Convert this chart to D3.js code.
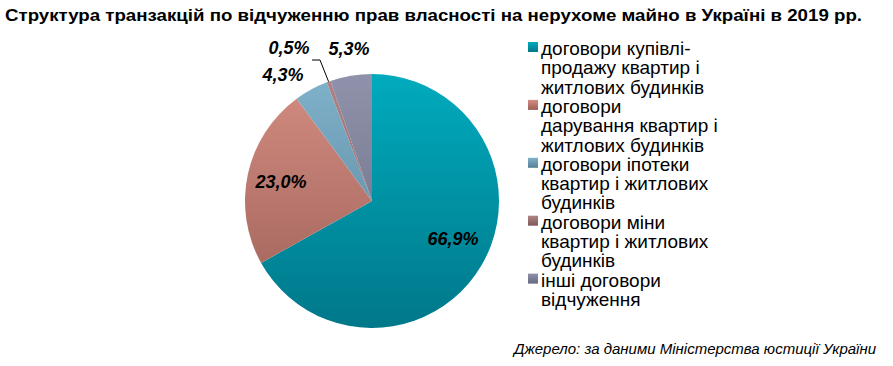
<!DOCTYPE html>
<html>
<head>
<meta charset="utf-8">
<script src="https://cdn.jsdelivr.net/npm/d3@7"></script>
<style>
  body { margin: 0; background: #fff; }
  svg { display: block; font-family: "Liberation Sans", Arial, sans-serif; }
</style>
</head>
<body>
<svg id="chart" width="893" height="366"></svg>
<script>
// Data
const categories = [
    'договори купівлі-продажу квартир і житлових будинків',
    'договори дарування квартир і житлових будинків',
    'договори іпотеки квартир і житлових будинків',
    'договори міни квартир і житлових будинків',
    'інші договори відчуження'
];
const shares = [66.9, 23.0, 4.3, 0.5, 5.3];
const valueLabels = ['66,9%', '23,0%', '4,3%', '0,5%', '5,3%'];
// legend lines as they wrap in the picture
const legendLines = [
    ['договори купівлі-', 'продажу квартир і', 'житлових будинків'],
    ['договори', 'дарування квартир і', 'житлових будинків'],
    ['договори іпотеки', 'квартир і житлових', 'будинків'],
    ['договори міни', 'квартир і житлових', 'будинків'],
    ['інші договори', 'відчуження']
];
const colorsTop = ['#00abbd', '#d48d82', '#80b2cb', '#b08484', '#8f92aa'];
const colorsBottom = ['#00788a', '#9c5f56', '#557f96', '#7e5a5a', '#666a80'];

const title = 'Структура транзакцій по відчуженню прав власності на нерухоме майно в Україні в 2019 рр.';
const source = 'Джерело: за даними Міністерства юстиції України';

function renderPieChart() {
    const svg = d3.select('#chart'),
        cx = 372, cy = 201, radius = 127;

    const defs = svg.append('defs');
    categories.forEach((c, i) => {
        // one vertical gradient over the whole pie, like the original
        const g = defs.append('linearGradient')
            .attr('id', 'slice' + i)
            .attr('gradientUnits', 'userSpaceOnUse')
            .attr('x1', 0).attr('x2', 0)
            .attr('y1', -radius).attr('y2', radius);
        g.append('stop').attr('offset', 0).attr('stop-color', colorsTop[i]);
        g.append('stop').attr('offset', 1).attr('stop-color', colorsBottom[i]);

        const l = defs.append('linearGradient')
            .attr('id', 'leg' + i)
            .attr('x1', 0).attr('x2', 0).attr('y1', 0).attr('y2', 1);
        l.append('stop').attr('offset', 0).attr('stop-color', colorsTop[i]);
        l.append('stop').attr('offset', 1).attr('stop-color', colorsBottom[i]);
    });

    svg.append('text')
        .attr('x', 5).attr('y', 21)
        .attr('font-size', 17).attr('font-weight', 'bold')
        .attr('textLength', 857)
        .attr('lengthAdjust', 'spacingAndGlyphs')
        .text(title);

    const pie = d3.pie().sort(null).value(d => d);
    const arcs = pie(shares);
    const arc = d3.arc().innerRadius(0).outerRadius(radius);

    const g = svg.append('g').attr('transform', `translate(${cx},${cy})`);

    g.selectAll('path')
        .data(arcs)
        .enter().append('path')
        .attr('d', arc)
        .attr('fill', (d, i) => `url(#slice${i})`)
        .attr('stroke', 'none');

    // label positions as placed in the picture
    const labelPos = [[81, 44], [-91, -13], [-89, -120], [-83, -147], [-23, -146]];

    g.selectAll('text.val')
        .data(arcs)
        .enter().append('text')
        .attr('class', 'val')
        .attr('x', (d, i) => labelPos[i][0])
        .attr('y', (d, i) => labelPos[i][1])
        .attr('text-anchor', 'middle')
        .attr('font-size', 18)
        .attr('font-weight', 'bold')
        .attr('font-style', 'italic')
        .attr('fill', '#000')
        .text((d, i) => valueLabels[i]);

    // leader line for the 0,5% slice
    const edge = d3.arc().innerRadius(radius).outerRadius(radius).centroid(arcs[3]);
    g.append('polyline')
        .attr('points', `${-60},${-141} ${-52},${-141} ${edge[0]},${edge[1]}`)
        .attr('fill', 'none')
        .attr('stroke', '#000')
        .attr('stroke-width', 1);

    // legend
    const lineH = 19.3;
    let line = 0;
    const legend = svg.append('g').attr('transform', 'translate(528,55)');
    legendLines.forEach((lines, i) => {
        const y0 = line * lineH;
        legend.append('rect')
            .attr('x', 0).attr('y', y0 - 13)
            .attr('width', 10).attr('height', 10)
            .attr('fill', `url(#leg${i})`);
        lines.forEach((t, k) => {
            legend.append('text')
                .attr('x', 13).attr('y', y0 + k * lineH)
                .attr('font-size', 19)
                .attr('fill', '#000')
                .text(t);
        });
        line += lines.length;
    });

    svg.append('text')
        .attr('x', 876).attr('y', 354)
        .attr('text-anchor', 'end')
        .attr('font-size', 15)
        .attr('font-style', 'italic')
        .text(source);
}

document.addEventListener('DOMContentLoaded', function() {
    renderPieChart();
});
</script>
</body>
</html>
